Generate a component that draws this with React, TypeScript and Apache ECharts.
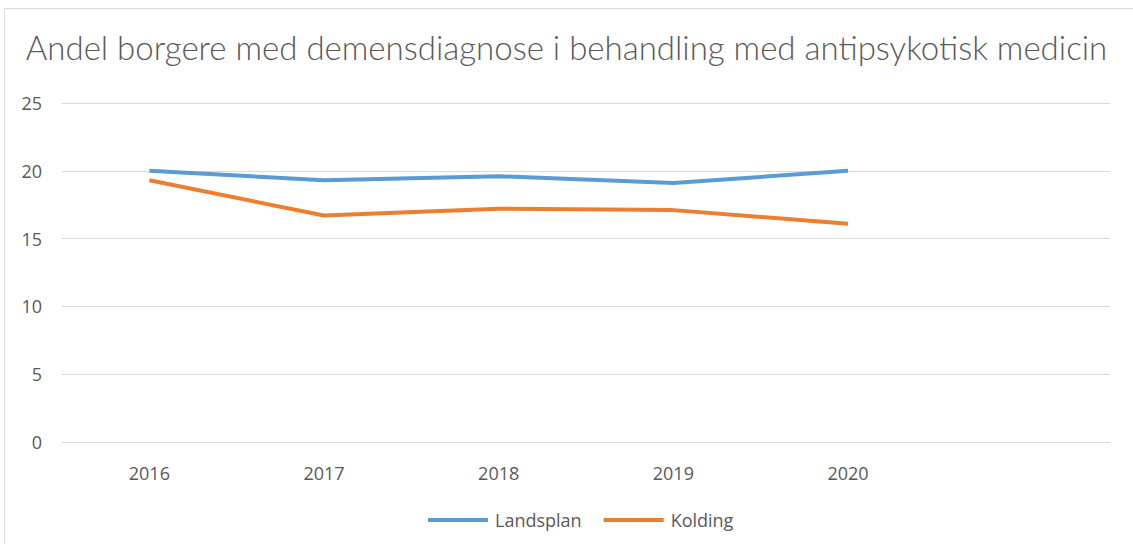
import React, { useEffect, useRef } from "react";
import * as echarts from "echarts";

const categories = ["2016", "2017", "2018", "2019", "2020", ""];
const landsplan = [20.0, 19.3, 19.6, 19.1, 20.0];
const kolding = [19.3, 16.7, 17.2, 17.1, 16.1];
const titleText = "Andel borgere med demensdiagnose i behandling med antipsykotisk medicin";

export default function App() {
  const ref = useRef<HTMLDivElement>(null);
  useEffect(() => {
    document.body.style.margin = "0";
    const chart = echarts.init(ref.current!, null, { renderer: "svg" });
    chart.setOption({
      animation: false,
      backgroundColor: "#ffffff",
      title: {
        text: titleText,
        left: "center",
        top: 25,
        textStyle: { fontFamily: "Lato", fontWeight: 300, fontSize: 33, color: "#595959" },
      },
      graphic: [
        {
          type: "rect",
          shape: { x: 4.5, y: 8.5, width: 1140, height: 560 },
          style: { fill: "none", stroke: "#d9d9d9", lineWidth: 1 },
          silent: true,
        },
      ],
      legend: {
        bottom: 10,
        left: 423,
        itemWidth: 60,
        itemHeight: 4,
        itemGap: 22,
        icon: "rect",
        textStyle: { fontFamily: "Open Sans", fontSize: 18, color: "#595959", padding: [0, 0, 0, 2] },
        data: ["Landsplan", "Kolding"],
      },
      grid: { left: 62, right: 23, top: 103, bottom: 102 },
      xAxis: {
        type: "category",
        data: categories,
        boundaryGap: true,
        axisLine: { show: true, lineStyle: { color: "#d9d9d9" } },
        axisTick: { show: false },
        axisLabel: { color: "#595959", fontFamily: "Open Sans", fontSize: 18, margin: 22 },
      },
      yAxis: {
        type: "value",
        min: 0,
        max: 25,
        interval: 5,
        axisLine: { show: false },
        axisTick: { show: false },
        splitLine: { lineStyle: { color: "#d9d9d9", width: 1 } },
        axisLabel: { color: "#595959", fontFamily: "Open Sans", fontSize: 18, margin: 20 },
      },
      series: [
        {
          name: "Landsplan",
          type: "line",
          data: landsplan,
          symbol: "none",
          lineStyle: { color: "#5B9BD5", width: 4 },
          itemStyle: { color: "#5B9BD5" },
        },
        {
          name: "Kolding",
          type: "line",
          data: kolding,
          symbol: "none",
          lineStyle: { color: "#ED7D31", width: 4 },
          itemStyle: { color: "#ED7D31" },
        },
      ],
    });
    return () => chart.dispose();
  }, []);
  return <div ref={ref} style={{ width: 1133, height: 544 }} />;
}
